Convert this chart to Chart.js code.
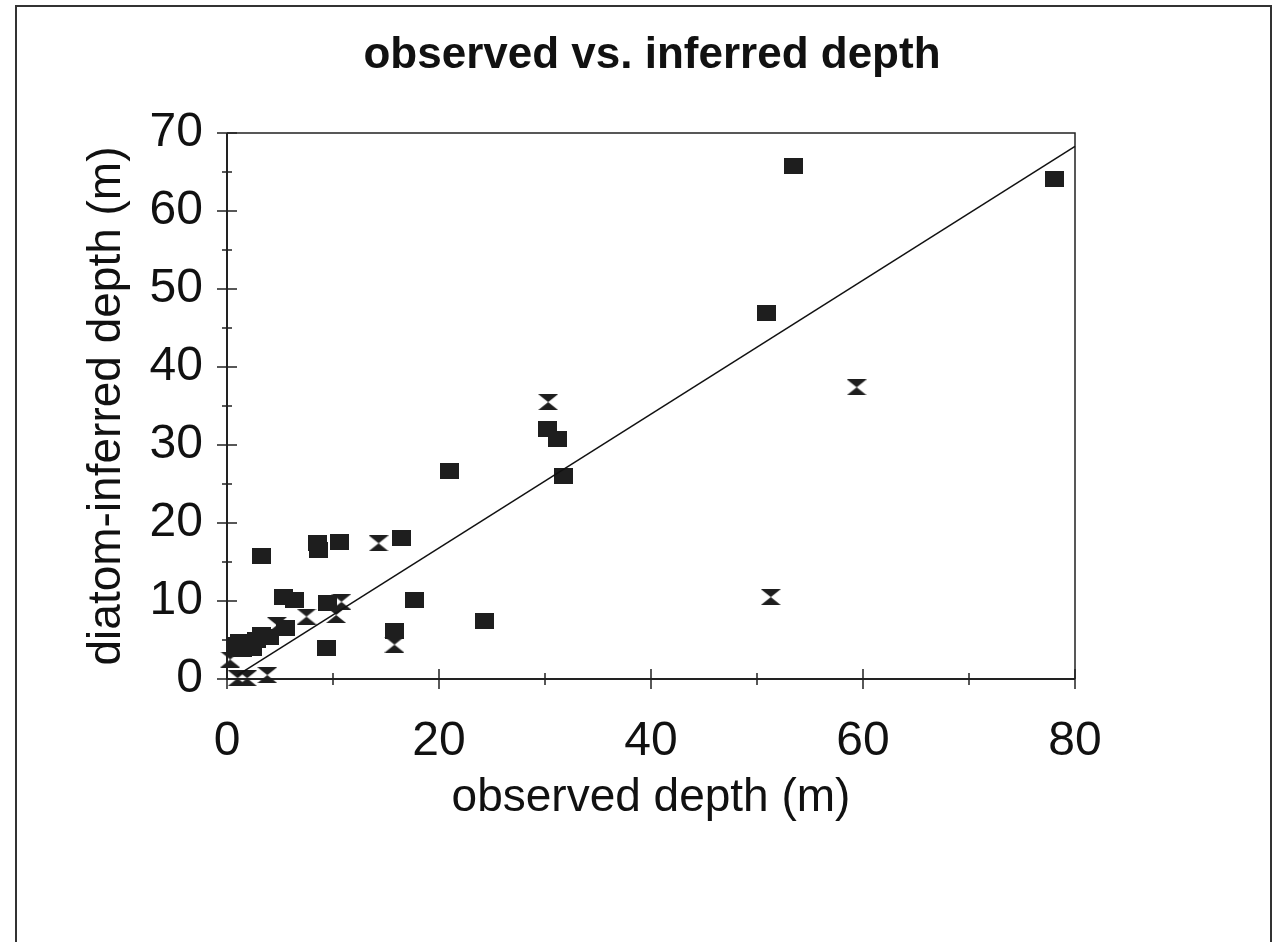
<!DOCTYPE html>
<html>
<head>
<meta charset="utf-8">
<script src="https://cdn.jsdelivr.net/npm/chart.js@4/dist/chart.umd.min.js"></script>
<style>
  html, body { margin: 0; padding: 0; background: #fff; }
  #c { display: block; }
</style>
</head>
<body>
<canvas id="c" width="1280" height="942"></canvas>
<script>
// ---- data ----
const chartTitle = 'observed vs. inferred depth';
const xTitle = 'observed depth (m)';
const yTitle = 'diatom-inferred depth (m)';

// filled squares
const squareX = [78.1, 53.4, 50.9, 30.2, 31.2, 31.7, 21.0, 3.3, 8.5, 8.6, 10.6, 16.5,
                 5.3, 6.4, 9.5, 17.7, 5.5, 15.8, 9.4, 24.3,
                 1.2, 2.0, 1.5, 2.8, 3.3, 4.0, 2.4, 0.9];
const squareY = [64.1, 65.8, 46.9, 32.0, 30.8, 26.0, 26.7, 15.8, 17.4, 16.6, 17.6, 18.1,
                 10.5, 10.1, 9.8, 10.1, 6.5, 6.2, 4.0, 7.5,
                 4.8, 4.4, 3.8, 5.0, 5.6, 5.4, 4.0, 4.4];

// hourglass markers
const hourX = [59.4, 51.3, 30.3, 14.3, 10.8, 10.3, 7.5, 4.7, 15.8, 0.3, 1.0, 1.9, 3.8];
const hourY = [37.4, 10.5, 35.5, 17.4, 9.9, 8.2, 8.0, 6.9, 4.4, 2.5, 0.1, 0.1, 0.5];

// fitted line end points
const lineX = [1.0, 80.0];
const lineY = [0.5, 68.3];

// axis ticks
const xTicks = [0, 20, 40, 60, 80];
const yTicks = [0, 10, 20, 30, 40, 50, 60, 70];

// ---- marker images ----
function makeSquare() {
  const c = document.createElement('canvas');
  c.width = 19; c.height = 16;
  const g = c.getContext('2d');
  g.fillStyle = '#1e1e1e';
  g.fillRect(0, 0, 19, 16);
  return c;
}
function makeHourglass() {
  const c = document.createElement('canvas');
  c.width = 20; c.height = 16;
  const g = c.getContext('2d');
  g.fillStyle = '#1e1e1e';
  g.beginPath();
  g.moveTo(0, 0); g.lineTo(20, 0); g.lineTo(10, 8);
  g.lineTo(20, 16); g.lineTo(0, 16); g.lineTo(10, 8);
  g.closePath();
  g.fill();
  return c;
}

const zip = (xs, ys) => xs.map((x, i) => ({ x, y: ys[i] }));

const FONT = "'Liberation Sans', Arial, sans-serif";

const framePlugin = {
  id: 'frame',
  beforeDraw(chart) {
    const ctx = chart.ctx;
    ctx.save();
    ctx.fillStyle = '#fff';
    ctx.fillRect(0, 0, chart.width, chart.height);
    // outer page border
    ctx.strokeStyle = '#333';
    ctx.lineWidth = 2;
    ctx.strokeRect(16, 6, 1255, 1000);
    // title
    ctx.fillStyle = '#111';
    ctx.font = "bold 44px " + FONT;
    ctx.textAlign = 'center';
    ctx.textBaseline = 'alphabetic';
    ctx.fillText(chartTitle, 652, 68);
    ctx.restore();
  },
  beforeDatasetsDraw(chart) {
    const ctx = chart.ctx;
    const a = chart.chartArea;
    const xs = chart.scales.x, ys = chart.scales.y;
    ctx.save();
    ctx.strokeStyle = '#222';
    ctx.lineWidth = 1.5;
    ctx.beginPath();
    ctx.moveTo(a.left, a.top); ctx.lineTo(a.right, a.top); ctx.lineTo(a.right, a.bottom);
    ctx.stroke();
    ctx.lineWidth = 2;
    ctx.beginPath();
    ctx.moveTo(a.left, a.top); ctx.lineTo(a.left, a.bottom); ctx.lineTo(a.right, a.bottom);
    ctx.stroke();
    ctx.lineWidth = 1.5;
    ctx.beginPath();
    for (let v = ys.min; v <= ys.max; v += 5) {
      const p = ys.getPixelForValue(v);
      const h = (v % 10 === 0) ? 10 : 5;
      ctx.moveTo(a.left - h, p); ctx.lineTo(a.left + h, p);
    }
    for (let v = xs.min; v <= xs.max; v += 10) {
      const p = xs.getPixelForValue(v);
      const h = (v % 20 === 0) ? 10 : 6;
      ctx.moveTo(p, a.bottom - h); ctx.lineTo(p, a.bottom + h);
    }
    ctx.stroke();
    ctx.restore();
  }
};

new Chart(document.getElementById('c'), {
  type: 'scatter',
  data: {
    datasets: [
      {
        type: 'line',
        data: zip(lineX, lineY),
        showLine: true,
        borderColor: '#111',
        borderWidth: 1.5,
        pointRadius: 0,
        fill: false,
        clip: false
      },
      {
        data: zip(squareX, squareY),
        pointStyle: makeSquare(),
        pointRadius: 10,
        clip: false
      },
      {
        data: zip(hourX, hourY),
        pointStyle: makeHourglass(),
        pointRadius: 10,
        clip: false
      }
    ]
  },
  options: {
    responsive: false,
    animation: false,
    devicePixelRatio: 1,
    layout: { padding: { left: 0, top: 133, right: 205, bottom: 0 } },
    plugins: {
      legend: { display: false },
      tooltip: { enabled: false },
      title: { display: false }
    },
    scales: {
      x: {
        type: 'linear',
        min: 0, max: 80,
        afterBuildTicks: s => { s.ticks = xTicks.map(v => ({ value: v })); },
        ticks: { padding: 34, color: '#111', font: { family: FONT, size: 48 } },
        grid: { display: false, drawTicks: false },
        border: { display: false },
        title: {
          display: true, text: xTitle, color: '#111',
          font: { family: FONT, size: 46 },
          padding: { top: 0, bottom: 116 }
        },
        afterFit: s => { s.height = 263; }
      },
      y: {
        type: 'linear',
        min: 0, max: 70,
        afterBuildTicks: s => { s.ticks = yTicks.map(v => ({ value: v })); },
        ticks: { padding: 24, color: '#111', font: { family: FONT, size: 48 } },
        grid: { display: false, drawTicks: false },
        border: { display: false },
        title: {
          display: true, text: yTitle, color: '#111',
          font: { family: FONT, size: 46 },
          padding: { top: 80, bottom: 0 }
        },
        afterFit: s => { s.width = 227; }
      }
    }
  },
  plugins: [framePlugin]
});
</script>
</body>
</html>
